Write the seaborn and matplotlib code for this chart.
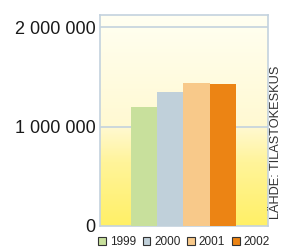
import matplotlib
matplotlib.use("Agg")
import matplotlib.pyplot as plt
from matplotlib.colors import LinearSegmentedColormap
from matplotlib.patches import Patch
import numpy as np
import pandas as pd
import seaborn as sns

# data
years = ["1999", "2000", "2001", "2002"]
values = [1195000, 1347000, 1437000, 1427000]
colors = ["#C8E09C", "#C0D0DA", "#F8C98A", "#EC8414"]
y_ticks = [0, 1000000, 2000000]
y_tick_labels = ["0", "1 000 000", "2 000 000"]
source = "LÄHDE: TILASTOKESKUS"

df = pd.DataFrame({"year": years, "value": values})

sns.set_style("white")
plt.rcParams["font.family"] = ["Liberation Sans", "DejaVu Sans"]

fig = plt.figure(figsize=(2.82, 2.48), dpi=100)
ax = fig.add_axes([100 / 282, 22 / 248, 168 / 282, 211.3 / 248])

sns.barplot(data=df, x="year", y="value", hue="year", palette=colors,
            width=1.0, saturation=1, legend=False, ax=ax, zorder=3,
            linewidth=0, edgecolor="none")

xmin, xmax = -1.68, 4.72
ymax = 2127000
ax.set_xlim(xmin, xmax)
ax.set_ylim(0, ymax)

# pale cream to yellow background
cmap = LinearSegmentedColormap.from_list(
    "bg", [(0.0, "#FFF066"), (0.3, "#FFF49A"), (0.47, "#FFF9D2"), (1.0, "#FFFFF2")])
grad = np.linspace(0, 1, 256).reshape(-1, 1)
ax.imshow(grad, aspect="auto", cmap=cmap, origin="lower",
          extent=[xmin, xmax, 0, ymax], zorder=0)

ax.set_yticks(y_ticks)
ax.set_yticklabels(y_tick_labels, fontsize=13, color="#1a1a1a")
ax.set_xticks([])
ax.set_xlabel("")
ax.set_ylabel("")
ax.tick_params(axis="y", length=0, pad=3)
for yv in y_ticks[1:]:
    ax.axhline(yv, color="#C3D2DE", lw=1.2, zorder=1)
for s in ax.spines.values():
    s.set_color("#C3D2DE")
    s.set_linewidth(1.2)

fig.text(276 / 282, 1 - 219 / 248, source, rotation=90, ha="center", va="bottom",
         fontsize=9.2, color="#333333")

handles = [Patch(facecolor=c, edgecolor="#333333", linewidth=0.8, label=y)
           for y, c in zip(years, colors)]
fig.legend(handles=handles, loc="center", bbox_to_anchor=(184 / 282, 1 - 242 / 248),
           ncol=4, frameon=False, fontsize=8.5, handlelength=0.65, handleheight=0.65,
           handletextpad=0.3, columnspacing=0.6, borderpad=0)

fig.savefig("out.png", dpi=100)
